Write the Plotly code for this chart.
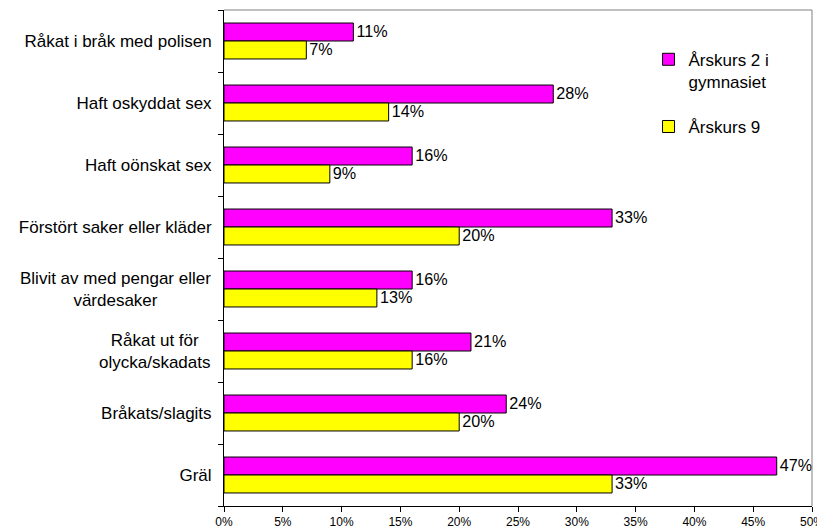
import plotly.graph_objects as go

categories = [
    "Råkat i bråk med polisen",
    "Haft oskyddat sex",
    "Haft oönskat sex",
    "Förstört saker eller kläder",
    "Blivit av med pengar eller<br>värdesaker",
    "Råkat ut för<br>olycka/skadats",
    "Bråkats/slagits",
    "Gräl",
]
gymnasiet = [0.11, 0.28, 0.16, 0.33, 0.16, 0.21, 0.24, 0.47]
arskurs9 = [0.07, 0.14, 0.09, 0.20, 0.13, 0.16, 0.20, 0.33]
tick_vals = [0, 0.05, 0.10, 0.15, 0.20, 0.25, 0.30, 0.35, 0.40, 0.45, 0.50]

FONT = "Arial, Liberation Sans, sans-serif"
NARROW = "Liberation Sans Narrow, Arial Narrow, Arial, sans-serif"

fig = go.Figure()
fig.add_trace(go.Bar(
    y=categories, x=gymnasiet, orientation="h",
    name="Årskurs 2 i<br>gymnasiet", legendgroup="a",
    marker=dict(color="#FF00FF", line=dict(color="black", width=1)),
    text=[f"{round(v*100)}%" for v in gymnasiet], textposition="outside",
    textfont=dict(size=18, color="black", family=FONT), cliponaxis=False,
))
fig.add_trace(go.Bar(
    y=categories, x=arskurs9, orientation="h",
    name="Årskurs 9", legendgroup="b",
    marker=dict(color="#FFFF00", line=dict(color="black", width=1)),
    text=[f"{round(v*100)}%" for v in arskurs9], textposition="outside",
    textfont=dict(size=18, color="black", family=FONT), cliponaxis=False,
))

# single-line labels as tick labels; two-line labels as centred annotations
tick_text = [c if "<br>" not in c else "" for c in categories]
annotations = [
    dict(text=c, xref="paper", yref="y", x=-0.0205, y=c, xanchor="right",
         yanchor="middle", align="center", showarrow=False,
         font=dict(size=17, family=FONT, color="black"), borderpad=0)
    for c in categories if "<br>" in c
]

# page has an 8px body margin, so the figure is drawn 8px in from the top-left
fig.update_layout(
    width=817, height=522,
    margin=dict(l=216, r=13, t=2, b=24),
    paper_bgcolor="white", plot_bgcolor="white",
    barmode="group", bargap=0.42, bargroupgap=0,
    font=dict(family=FONT, size=17, color="black"),
    showlegend=True,
    legend=dict(x=0.722, y=0.936, xanchor="left", yanchor="top",
                traceorder="grouped", tracegroupgap=20, valign="top",
                font=dict(size=17, family=FONT), bgcolor="rgba(0,0,0,0)"),
    xaxis=dict(range=[0, 0.5], tickvals=tick_vals, tickformat=".0%",
               automargin=False,
               showgrid=False, zeroline=False, showline=True,
               linecolor="black", linewidth=1, ticks="outside", ticklen=5,
               tickcolor="black",
               tickfont=dict(size=12, family=NARROW)),
    yaxis=dict(autorange="reversed", showgrid=False, zeroline=False,
               automargin=False, tickmode="array",
               tickvals=categories, ticktext=tick_text,
               showline=True, linecolor="black", linewidth=1,
               ticks="outside", ticklen=5, tickcolor="black",
               tickson="boundaries", ticklabelstandoff=8,
               tickfont=dict(size=17, family=FONT)),
    annotations=annotations,
    shapes=[
        dict(type="line", xref="paper", yref="paper", x0=0, x1=1, y0=1, y1=1,
             line=dict(color="#808080", width=1)),
        dict(type="line", xref="paper", yref="paper", x0=1, x1=1, y0=0, y1=1,
             line=dict(color="#808080", width=1)),
    ],
)

fig.write_html("out.html")
